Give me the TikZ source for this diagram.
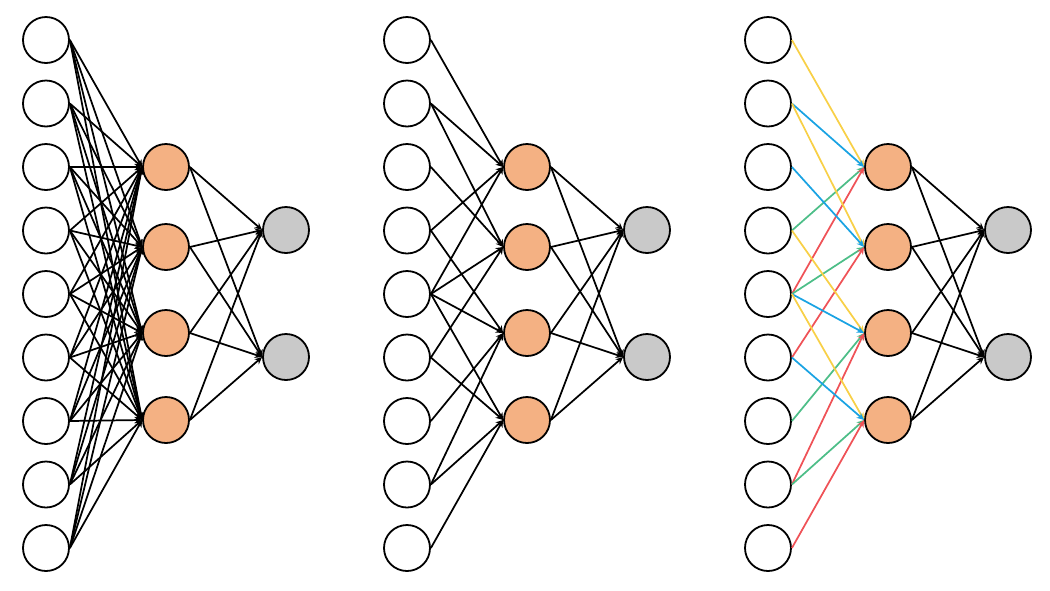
\documentclass[tikz,border=0pt]{standalone}
\usetikzlibrary{arrows.meta}
\definecolor{hidfill}{HTML}{F4B183}
\definecolor{outfill}{HTML}{C9C9C9}
\definecolor{cyel}{HTML}{F8D047}
\definecolor{cblu}{HTML}{1AA3E3}
\definecolor{cgrn}{HTML}{4DBE88}
\definecolor{cred}{HTML}{EF5257}
\tikzset{
  neuron/.style={circle, draw=black, line width=1.35pt, minimum size=34.5pt, inner sep=0pt},
  innode/.style={neuron, fill=white},
  hidnode/.style={neuron, fill=hidfill},
  outnode/.style={neuron, fill=outfill},
  conn/.style={line width=1.3pt, -{Stealth[length=5.5pt,width=5pt]}},
}
\begin{document}
\begin{tikzpicture}[x=0.75pt, y=-0.75pt]
\useasboundingbox (0,0) rectangle (1050,590);
\foreach \n/\ox in {1/0, 2/361, 3/722} {
  \foreach \k in {1,...,9} {
    \node[innode] (i\n-\k) at ({46+\ox}, {40+63.5*(\k-1)}) {};
  }
  \foreach \k/\yy in {1/167, 2/247, 3/333, 4/420} {
    \node[hidnode] (h\n-\k) at ({166+\ox}, \yy) {};
  }
  \foreach \k/\yy in {1/230, 2/357} {
    \node[outnode] (o\n-\k) at ({286+\ox}, \yy) {};
  }
  \foreach \h in {1,...,4} {
    \foreach \o in {1,2} {
      \draw[conn] (h\n-\h.east) -- (o\n-\o.west);
    }
  }
}
% network 1: fully connected
\foreach \i in {1,...,9} {
  \foreach \h in {1,...,4} {
    \draw[conn] (i1-\i.east) -- (h1-\h.west);
  }
}
% network 2 and 3: local connectivity (2x2 kernel on 3x3 grid)
\foreach \h/\a/\b/\c/\d in {1/1/2/4/5, 2/2/3/5/6, 3/4/5/7/8, 4/5/6/8/9} {
  \foreach \i in {\a,\b,\c,\d} {
    \draw[conn] (i2-\i.east) -- (h2-\h.west);
  }
  \draw[conn, draw=cyel, fill=cyel] (i3-\a.east) -- (h3-\h.west);
  \draw[conn, draw=cblu, fill=cblu] (i3-\b.east) -- (h3-\h.west);
  \draw[conn, draw=cgrn, fill=cgrn] (i3-\c.east) -- (h3-\h.west);
  \draw[conn, draw=cred, fill=cred] (i3-\d.east) -- (h3-\h.west);
}
\end{tikzpicture}
\end{document}
